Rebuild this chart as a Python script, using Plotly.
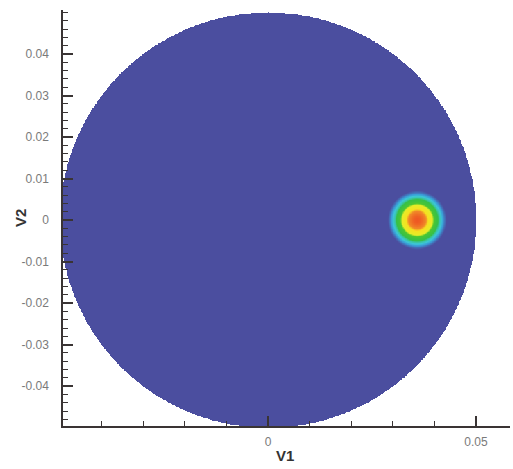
import numpy as np
import plotly.graph_objects as go

# Data
disk_radius = 0.05
blob_center_v1 = 0.0358
blob_center_v2 = 0.0
blob_sigma = 0.0026
grid_n = 601

y_tickvals = [-0.04, -0.03, -0.02, -0.01, 0, 0.01, 0.02, 0.03, 0.04]
y_ticktext = ["-0.04", "-0.03", "-0.02", "-0.01", "0", "0.01", "0.02", "0.03", "0.04"]
x_tickvals = [0, 0.05]
x_ticktext = ["0", "0.05"]

v1 = np.linspace(-disk_radius, disk_radius, grid_n)
v2 = np.linspace(-disk_radius, disk_radius, grid_n)
V1, V2 = np.meshgrid(v1, v2)
r2 = (V1 - blob_center_v1) ** 2 + (V2 - blob_center_v2) ** 2
z = np.exp(-r2 / (2 * blob_sigma ** 2))
z[V1 ** 2 + V2 ** 2 > disk_radius ** 2] = np.nan

blue = "#4b4e9f"
colorscale = [
    [0.0, blue],
    [0.025, blue],
    [0.055, "#3a9ad6"],
    [0.085, "#3cc6d6"],
    [0.12, "#3ac4a8"],
    [0.16, "#36c048"],
    [0.30, "#4cc632"],
    [0.38, "#e6ec28"],
    [0.60, "#f6e020"],
    [0.72, "#f08a28"],
    [1.0, "#ee5822"],
]

fig = go.Figure(go.Heatmap(
    x=v1, y=v2, z=z, colorscale=colorscale, zmin=0, zmax=1,
    showscale=False, zsmooth=False, hoverongaps=False,
))

axis_color = "#3a3434"
tick_font = dict(family="Liberation Sans, Arial", size=12, color="#7a7a7a")

fig.update_layout(
    width=513, height=469,
    margin=dict(l=63, r=3, t=10, b=43),
    paper_bgcolor="white", plot_bgcolor="white",
    showlegend=False,
    xaxis=dict(
        range=[-0.0493, 0.0582], showgrid=False, zeroline=False,
        showline=True, linecolor=axis_color, linewidth=1.5,
        tickvals=x_tickvals, ticktext=x_ticktext,
        ticks="inside", ticklen=10, tickwidth=1.5, tickcolor=axis_color,
        tickfont=tick_font, ticklabelstandoff=4,
        minor=dict(dtick=0.01, tick0=0, ticks="inside", ticklen=5, tickwidth=1, tickcolor=axis_color),
    ),
    yaxis=dict(
        range=[-0.0496, 0.0506], showgrid=False, zeroline=False,
        showline=True, linecolor=axis_color, linewidth=1.5,
        tickvals=y_tickvals, ticktext=y_ticktext,
        ticks="inside", ticklen=10, tickwidth=1.5, tickcolor=axis_color,
        tickfont=tick_font, ticklabelstandoff=10,
        minor=dict(dtick=0.002, tick0=0, ticks="inside", ticklen=5, tickwidth=1, tickcolor=axis_color),
    ),
    annotations=[
        dict(text="<b>V1</b>", xref="paper", yref="paper",
             x=(285 - 63) / 447, y=-(455 - 426) / 416,
             showarrow=False, font=dict(family="Liberation Sans, Arial", size=15, color="#333333"),
             xanchor="center", yanchor="middle"),
        dict(text="<b>V2</b>", xref="paper", yref="paper",
             x=-(63 - 20) / 447, y=(426 - 218) / 416, textangle=-90,
             showarrow=False, font=dict(family="Liberation Sans, Arial", size=15, color="#333333"),
             xanchor="center", yanchor="middle"),
    ],
)

fig.write_html("out.html")
